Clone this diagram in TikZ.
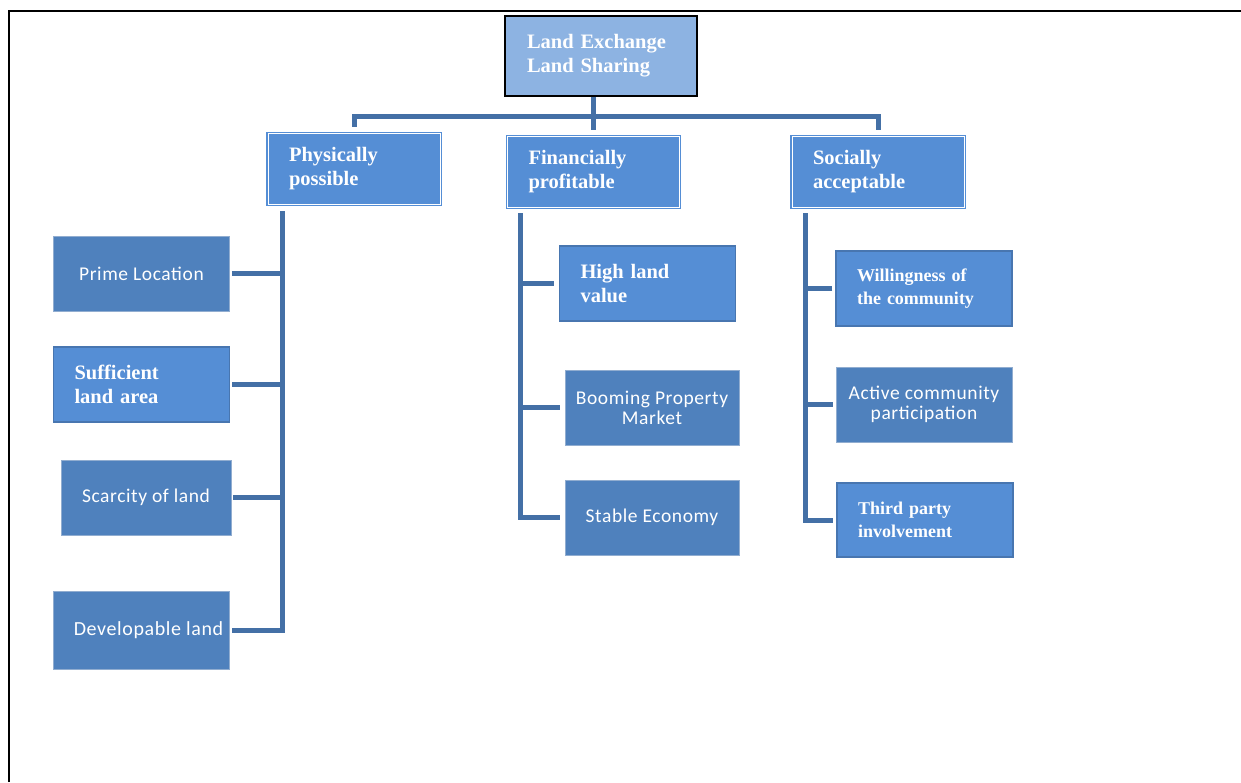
\documentclass[tikz,border=0pt]{standalone}
\usepackage{fontspec}
\setmainfont{Liberation Serif}
\newfontfamily\calibfont{Carlito}[LetterSpace=3.0]
\usepackage{tikz}
\usepackage{xcolor}
\definecolor{rootfill}{RGB}{141,179,226}
\definecolor{headfill}{RGB}{85,142,213}
\definecolor{leaffill}{RGB}{79,129,189}
\definecolor{leafedge}{RGB}{72,118,176}
\definecolor{linkblue}{RGB}{68,112,166}
\tikzset{
RootBox/.style={
 draw=black, 
 line width=1.6pt, 
 fill=rootfill, 
 text=white, 
 font=\bfseries\fontsize{20.5}{24}\selectfont, 
 align=left, 
 text width=148pt, 
 inner xsep=22pt, 
 minimum height=80pt
 },
HeadBox/.style={
 draw=headfill, 
 line width=1.4pt, 
 double=white, 
 double distance=0.9pt, 
 fill=headfill, 
 text=white, 
 font=\bfseries\fontsize{20.5}{24}\selectfont, 
 align=left, 
 text width=130pt, 
 inner xsep=21pt, 
 minimum height=71pt
 },
BoldLeaf/.style={
 draw=leafedge, 
 line width=1.2pt, 
 fill=headfill, 
 text=white, 
 font=\bfseries\fontsize{#1}{23.5}\selectfont, 
 align=left, 
 text width=134pt, 
 inner xsep=21pt, 
 minimum height=75pt
 },
BoldLeaf/.default={20.5},
SansLeaf/.style={
 draw=leafedge!60!white, 
 line width=0.8pt, 
 fill=leaffill, 
 text=white, 
 font=\calibfont\fontsize{#1}{20}\selectfont, 
 align=center, 
 inner sep=0pt, 
 minimum width=176pt, 
 minimum height=75pt
 },
SansLeaf/.default={19.5},
Link/.style={
 draw=linkblue, 
 line width=5pt
 }
}
\begin{document}
\begin{tikzpicture}[x=1pt,y=-1pt]
\useasboundingbox (0,0) rectangle (1241,782);
\draw[line width=2.4pt] (9,782) -- (9,11) -- (1241,11);
% top and the three heads
\node[RootBox] (root) at (601,56) {Land Exchange\\Land Sharing};
\node[HeadBox] (phys) at (354,169) {Physically\\possible};
\node[HeadBox] (fin) at (593.5,172) {Financially\\profitable};
\node[HeadBox] (soc) at (878,172) {Socially\\acceptable};
% physically possible
\node[SansLeaf] (prime) at (141.5,273.5) {Prime Location};
\node[BoldLeaf] (suff) at (141.5,384.5) {Sufficient\\land area};
\node[SansLeaf,minimum width=170pt] (scar) at (146,497.5) {Scarcity of land};
\node[SansLeaf=20,minimum height=78pt] (devel) at (141.5,630) {\hspace*{14pt}Developable land};
% financially profitable
\node[BoldLeaf] (high) at (647.5,283.5) {High land\\value};
\node[SansLeaf,minimum width=174pt] (boom) at (652,407.5) {Booming Property\\Market};
\node[SansLeaf,minimum width=174pt] (stab) at (652,517.5) {Stable Economy};
% socially acceptable
\node[BoldLeaf=18] (will) at (924,288.5) {Willingness of\\the community};
\node[SansLeaf] (act) at (924,404.5) {Active community\\participation};
\node[BoldLeaf=18,minimum height=74pt] (third) at (925,520) {Third party\\involvement};
% connectors
\coordinate (bus) at (593,116);
\coordinate (physspine) at ([xshift=15pt,yshift=-6pt]phys.south west);
\coordinate (finspine) at ([xshift=14pt,yshift=-5pt]fin.south west);
\coordinate (socspine) at ([xshift=14pt,yshift=-5pt]soc.south west);
\draw[Link] (root.south -| fin.north) -- ([yshift=6pt]fin.north);
\draw[Link] ([yshift=6pt]phys.north) |- (bus) -| ([yshift=6pt]soc.north);
\draw[Link] (physspine) |- ([xshift=2pt]devel.east);
\foreach \n in {prime,suff,scar}
 \draw[Link] ([xshift=2pt]\n.east) -- (\n.east -| physspine);
\draw[Link] (finspine) |- ([xshift=-5pt]stab.west);
\foreach \n in {high,boom}
 \draw[Link] ([xshift=-5pt]\n.west) -- (\n.west -| finspine);
\draw[Link] (socspine) |- ([xshift=-3pt]third.west);
\foreach \n in {will,act}
 \draw[Link] ([xshift=-3pt]\n.west) -- (\n.west -| socspine);
\end{tikzpicture}
\end{document}
